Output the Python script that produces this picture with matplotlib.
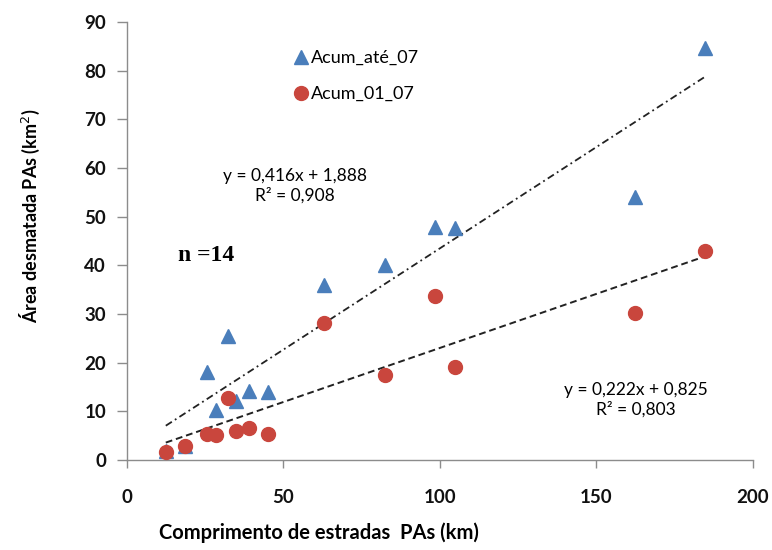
import numpy as np
import matplotlib
matplotlib.use("Agg")
import matplotlib.pyplot as plt

# road length (km) per settlement and cumulative deforested area (km2)
comprimento = [12.4, 18.5, 25.5, 28.6, 32.4, 35.0, 39.0, 45.1, 62.9, 82.6, 98.3, 104.8, 162.3, 184.7]
acum_ate_07 = [1.8, 2.8, 18.0, 10.3, 25.5, 12.2, 14.2, 14.0, 36.0, 40.0, 47.8, 47.6, 54.0, 84.6]
acum_01_07 = [1.7, 2.9, 5.4, 5.1, 12.7, 6.0, 6.5, 5.4, 28.2, 17.5, 33.7, 19.1, 30.3, 43.0]

# linear fits as printed on the chart
fit_ate = (0.416, 1.888, 0.908)
fit_01 = (0.222, 0.825, 0.803)

azul = "#4A7EBB"
vermelho = "#C9463D"
cinza = "#8C8C8C"

fig = plt.figure(figsize=(7.72, 5.5), dpi=100)
ax = fig.add_axes([0.1645, 0.1636, 0.8105, 0.7964])

xs = np.array([min(comprimento), max(comprimento)])
ax.plot(xs, fit_ate[0] * xs + fit_ate[1], color="#222222", lw=1.3, ls=(0, (4, 2, 1, 2)), zorder=2)
ax.plot(xs, fit_01[0] * xs + fit_01[1], color="#222222", lw=1.4, ls=(0, (3.5, 2)), zorder=2)

ax.plot(comprimento, acum_ate_07, ls="none", marker="^", ms=10, color=azul, label="Acum_até_07", zorder=3)
ax.plot(comprimento, acum_01_07, ls="none", marker="o", ms=10, color=vermelho, label="Acum_01_07", zorder=4)

ax.set_xlim(0, 200)
ax.set_ylim(0, 90)
ax.set_xticks([0, 50, 100, 150, 200])
ax.set_yticks(range(0, 91, 10))
for s in ["top", "right"]:
    ax.spines[s].set_visible(False)
for s in ["left", "bottom"]:
    ax.spines[s].set_color(cinza)
    ax.spines[s].set_linewidth(1.0)
ax.tick_params(axis="x", length=6, width=1, color=cinza, pad=15, labelsize=13.5)
ax.tick_params(axis="y", length=7, width=1, color=cinza, pad=8, labelsize=13.5)
for lab in ax.get_xticklabels() + ax.get_yticklabels():
    lab.set_fontfamily("Lato")
    lab.set_fontweight("bold")
    lab.set_color("#111111")

leg = ax.legend(loc="upper left", bbox_to_anchor=(0.243, 0.965), frameon=False,
                prop={"family": "Lato", "size": 13}, handletextpad=0.05,
                labelspacing=1.1, handlelength=1.0, borderpad=0.2)

ax.text(0.268, 0.625, "y = 0,416x + 1,888\nR² = 0,908", transform=ax.transAxes,
        ha="center", va="center", fontsize=12.5, family="Lato", linespacing=1.25)
ax.text(0.813, 0.137, "y = 0,222x + 0,825\nR² = 0,803", transform=ax.transAxes,
        ha="center", va="center", fontsize=12.5, family="Lato", linespacing=1.25)
ax.text(0.081, 0.468, "n =14", transform=ax.transAxes, ha="left", va="center",
        fontsize=17, family="Liberation Serif", fontweight="bold")

fig.text(0.413, 0.012, "Comprimento de estradas  PAs (km)", ha="center", va="bottom",
         fontsize=14.5, family="Lato", fontweight="bold")
fig.text(0.039, 0.607, "Área desmatada PAs (km$^{2}$)", ha="center", va="center",
         rotation=90, fontsize=13, family="Lato", fontweight="bold")

fig.savefig("out.png", dpi=100)
